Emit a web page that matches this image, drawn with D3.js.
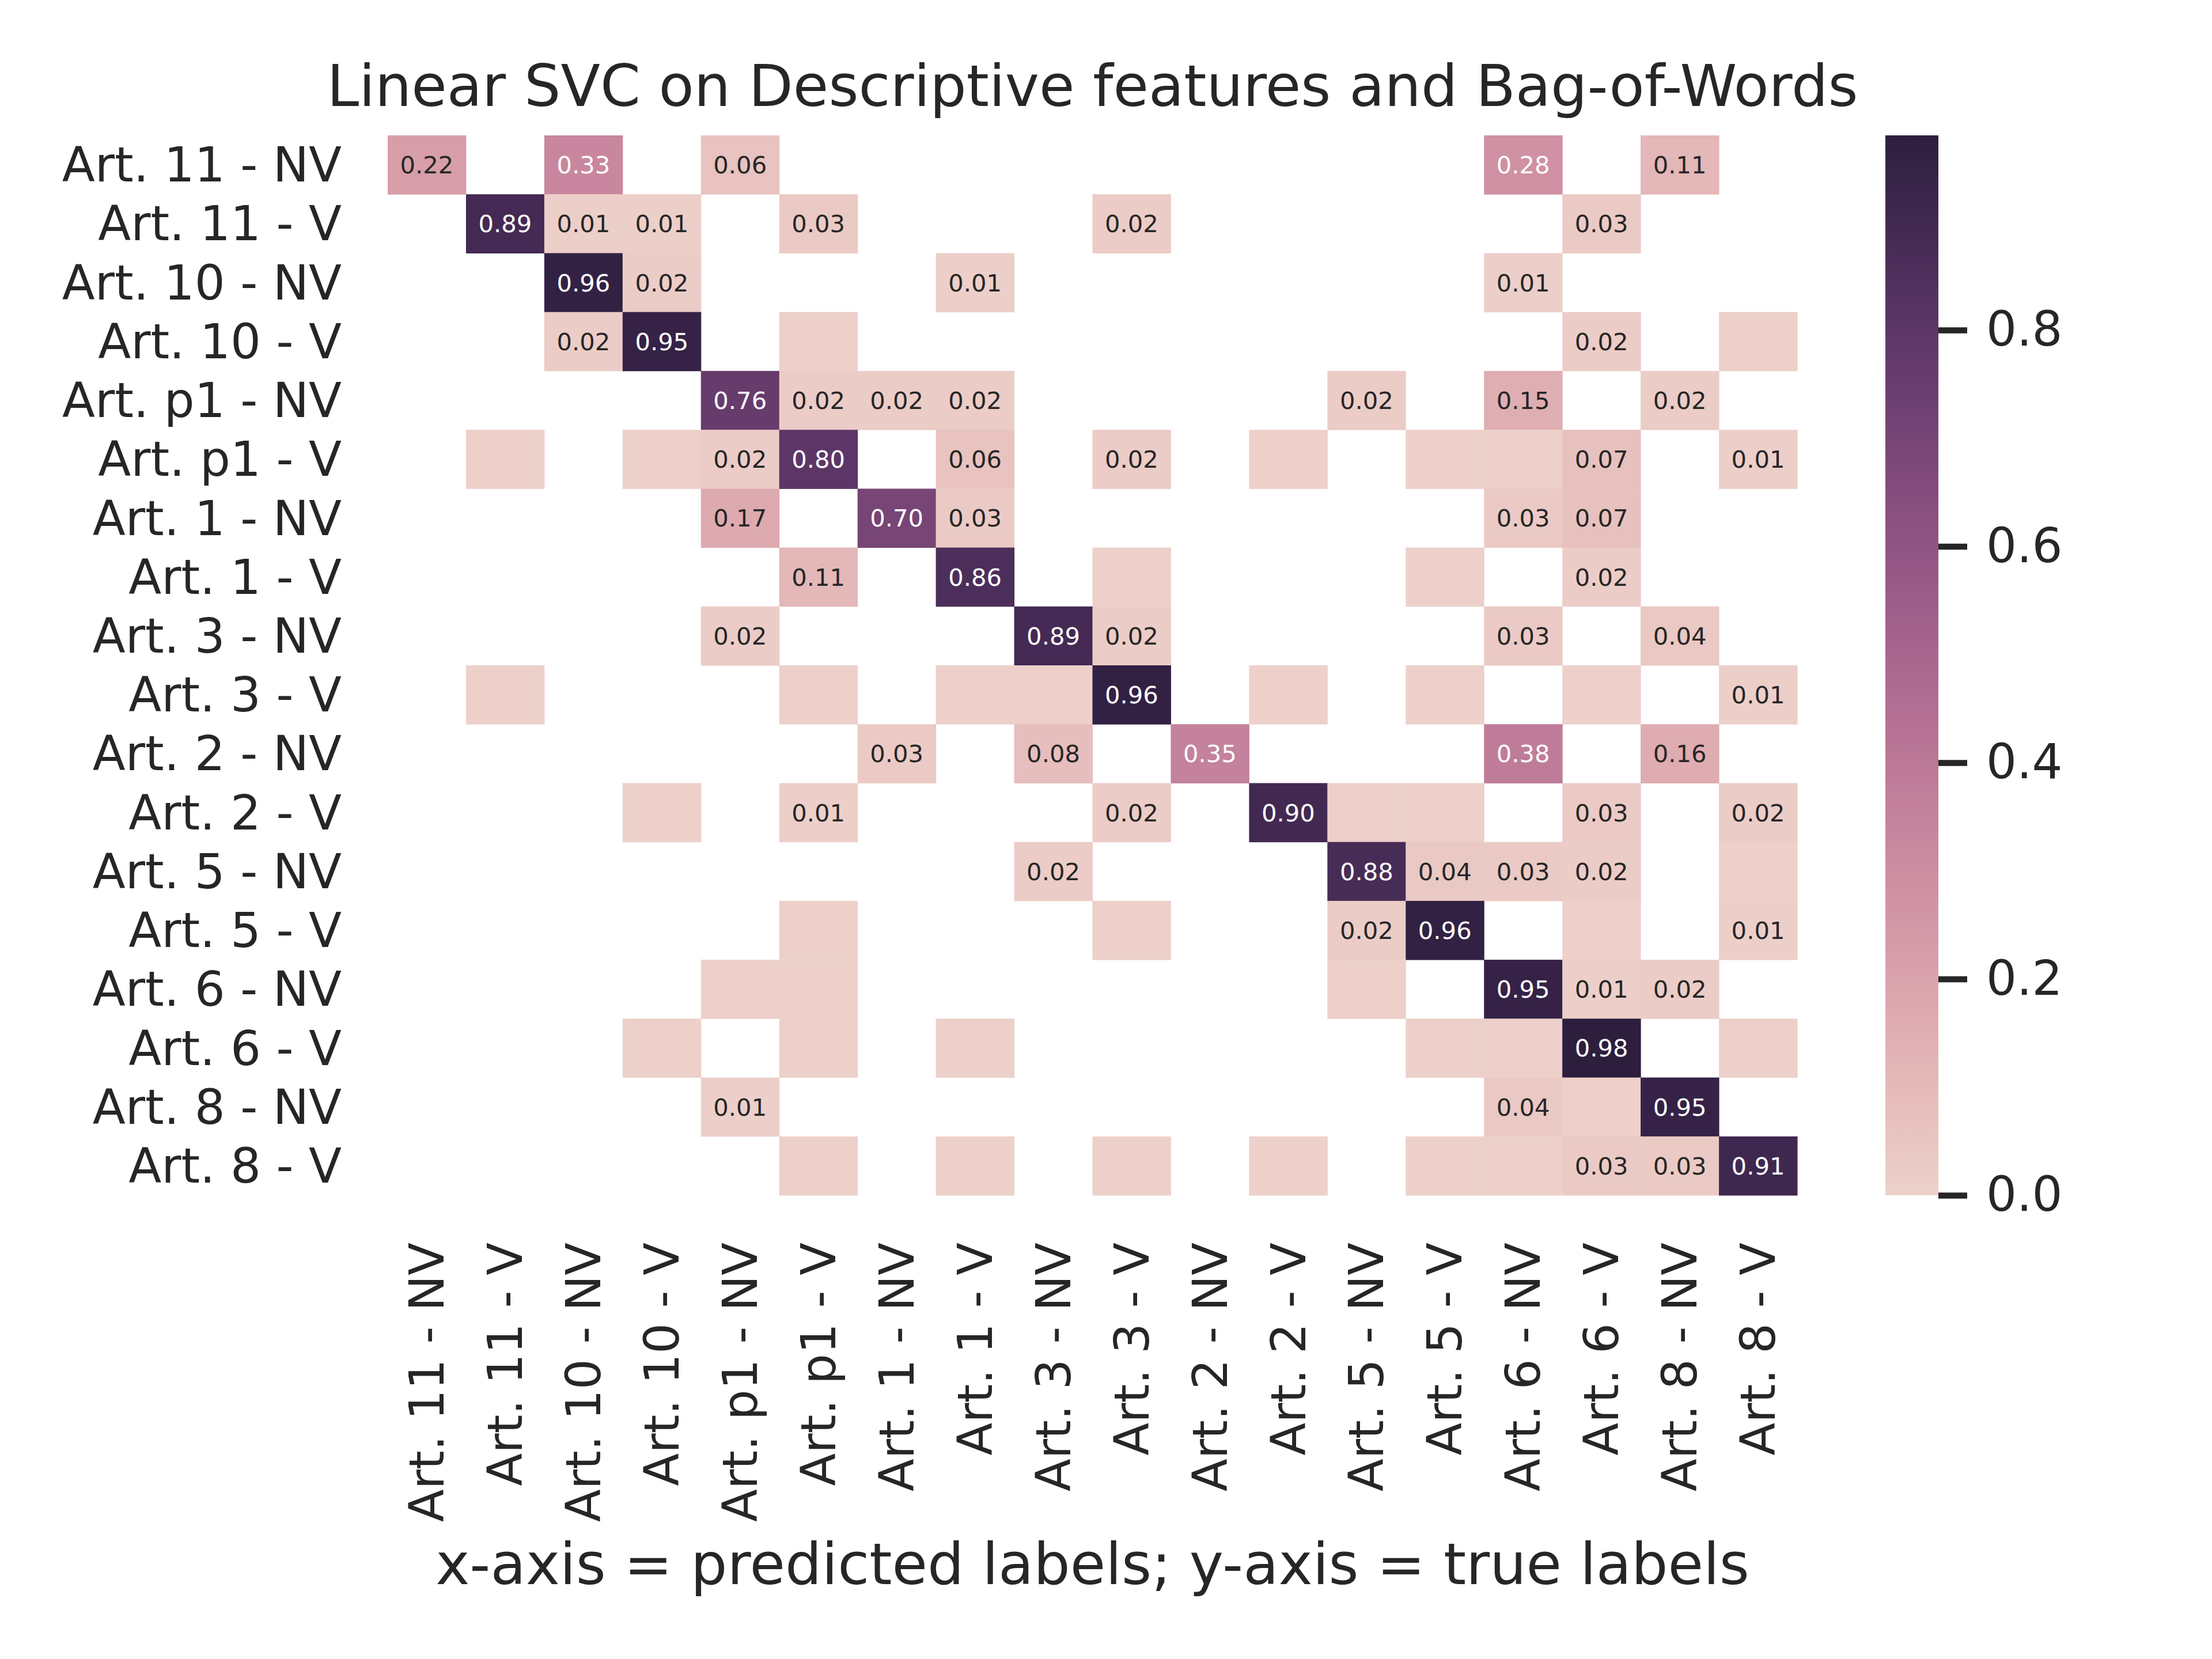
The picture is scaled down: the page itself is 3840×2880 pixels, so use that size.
<!DOCTYPE html>
<html>
<head>
<meta charset="utf-8">
<script src="https://cdn.jsdelivr.net/npm/d3@7"></script>
<style>
  html, body { margin: 0; padding: 0; background: #ffffff; }
  svg text { font-family: "DejaVu Sans", sans-serif; fill: #262626; }
</style>
</head>
<body>
<div id="chart"></div>
<script>
const labels = ["Art. 11 - NV", "Art. 11 - V", "Art. 10 - NV", "Art. 10 - V",
    "Art. p1 - NV", "Art. p1 - V", "Art. 1 - NV", "Art. 1 - V",
    "Art. 3 - NV", "Art. 3 - V", "Art. 2 - NV", "Art. 2 - V",
    "Art. 5 - NV", "Art. 5 - V", "Art. 6 - NV", "Art. 6 - V",
    "Art. 8 - NV", "Art. 8 - V"];

// tiny non-zero share that rounds to 0.00 (coloured cell, no label)
const L = 0.004;

// rows = true labels, columns = predicted labels
const matrix = [
    [0.22, 0, 0.33, 0, 0.06, 0, 0, 0, 0, 0, 0, 0, 0, 0, 0.28, 0, 0.11, 0],
    [0, 0.89, 0.01, 0.01, 0, 0.03, 0, 0, 0, 0.02, 0, 0, 0, 0, 0, 0.03, 0, 0],
    [0, 0, 0.96, 0.02, 0, 0, 0, 0.01, 0, 0, 0, 0, 0, 0, 0.01, 0, 0, 0],
    [0, 0, 0.02, 0.95, 0, L, 0, 0, 0, 0, 0, 0, 0, 0, 0, 0.02, 0, L],
    [0, 0, 0, 0, 0.76, 0.02, 0.02, 0.02, 0, 0, 0, 0, 0.02, 0, 0.15, 0, 0.02, 0],
    [0, L, 0, L, 0.02, 0.80, 0, 0.06, 0, 0.02, 0, L, 0, L, L, 0.07, 0, 0.01],
    [0, 0, 0, 0, 0.17, 0, 0.70, 0.03, 0, 0, 0, 0, 0, 0, 0.03, 0.07, 0, 0],
    [0, 0, 0, 0, 0, 0.11, 0, 0.86, 0, L, 0, 0, 0, L, 0, 0.02, 0, 0],
    [0, 0, 0, 0, 0.02, 0, 0, 0, 0.89, 0.02, 0, 0, 0, 0, 0.03, 0, 0.04, 0],
    [0, L, 0, 0, 0, L, 0, L, L, 0.96, 0, L, 0, L, 0, L, 0, 0.01],
    [0, 0, 0, 0, 0, 0, 0.03, 0, 0.08, 0, 0.35, 0, 0, 0, 0.38, 0, 0.16, 0],
    [0, 0, 0, L, 0, 0.01, 0, 0, 0, 0.02, 0, 0.90, L, L, 0, 0.03, 0, 0.02],
    [0, 0, 0, 0, 0, 0, 0, 0, 0.02, 0, 0, 0, 0.88, 0.04, 0.03, 0.02, 0, L],
    [0, 0, 0, 0, 0, L, 0, 0, 0, L, 0, 0, 0.02, 0.96, 0, L, 0, 0.01],
    [0, 0, 0, 0, L, L, 0, 0, 0, 0, 0, 0, L, 0, 0.95, 0.01, 0.02, 0],
    [0, 0, 0, L, 0, L, 0, L, 0, 0, 0, 0, 0, L, L, 0.98, 0, L],
    [0, 0, 0, 0, 0.01, 0, 0, 0, 0, 0, 0, 0, 0, 0, 0.04, L, 0.95, 0],
    [0, 0, 0, 0, 0, L, 0, L, 0, L, 0, L, 0, L, L, 0.03, 0.03, 0.91]
];

const colorbarTicks = [0.0, 0.2, 0.4, 0.6, 0.8];
const vmax = 0.98;

const title = "Linear SVC on Descriptive features and Bag-of-Words";
const xTitle = "x-axis = predicted labels; y-axis = true labels";

const width = 3840, height = 2880;
const plot = { left: 673, right: 3120, top: 235, bottom: 2075 };
const cbar = { left: 3273, right: 3365 };
const tickFont = 83.3, titleFont = 100, annotFont = 41.7;

// seaborn cubehelix_palette(as_cmap=True) defaults
function cubehelix(t) {
    const start = 0, rot = 0.4, gamma = 1, hue = 0.8, light = 0.85, dark = 0.15;
    const x = light + (dark - light) * t;
    const xg = Math.pow(x, gamma);
    const a = hue * xg * (1 - xg) / 2;
    const phi = 2 * Math.PI * (start / 3 + rot * x);
    const c = Math.cos(phi), s = Math.sin(phi);
    const clamp = function(v) { return Math.max(0, Math.min(1, v)) * 255; };
    return d3.rgb(
        clamp(xg + a * (-0.14861 * c + 1.78277 * s)),
        clamp(xg + a * (-0.29227 * c - 0.90649 * s)),
        clamp(xg + a * (1.97294 * c))
    ).formatHex();
}

const color = d3.scaleSequential(cubehelix).domain([0, vmax]).clamp(true);

function luminance(hex) {
    const c = d3.rgb(hex);
    const lin = [c.r, c.g, c.b].map(function(v) {
        v = v / 255;
        return v <= 0.03928 ? v / 12.92 : Math.pow((v + 0.055) / 1.055, 2.4);
    });
    return 0.2126 * lin[0] + 0.7152 * lin[1] + 0.0722 * lin[2];
}

const svg = d3.select("#chart").append("svg")
    .attr("width", width)
    .attr("height", height)
    .attr("viewBox", "0 0 " + width + " " + height);

svg.append("rect").attr("width", width).attr("height", height).attr("fill", "#ffffff");

const x = d3.scaleBand().domain(labels).range([plot.left, plot.right]).padding(0);
const y = d3.scaleBand().domain(labels).range([plot.top, plot.bottom]).padding(0);

const cells = [];
matrix.forEach(function(row, i) {
    row.forEach(function(v, j) {
        if (v > 0) cells.push({ row: labels[i], col: labels[j], value: v });
    });
});

const cellG = svg.append("g").attr("class", "cells");

cellG.selectAll("rect")
    .data(cells)
    .enter().append("rect")
    .attr("x", function(d) { return x(d.col); })
    .attr("y", function(d) { return y(d.row); })
    .attr("width", x.bandwidth() + 0.5)
    .attr("height", y.bandwidth() + 0.5)
    .attr("fill", function(d) { return color(d.value); });

cellG.selectAll("text")
    .data(cells.filter(function(d) { return d.value >= 0.005; }))
    .enter().append("text")
    .attr("x", function(d) { return x(d.col) + x.bandwidth() / 2; })
    .attr("y", function(d) { return y(d.row) + y.bandwidth() / 2; })
    .attr("dy", "0.36em")
    .attr("text-anchor", "middle")
    .style("font-size", annotFont + "px")
    .style("fill", function(d) { return luminance(color(d.value)) > 0.408 ? "#262626" : "#ffffff"; })
    .text(function(d) { return d3.format(".2f")(d.value); });

// y axis (true labels)
const yAxis = svg.append("g")
    .attr("transform", "translate(" + plot.left + ",0)")
    .call(d3.axisLeft(y).tickSize(0).tickPadding(80));
yAxis.select(".domain").remove();
yAxis.selectAll("text")
    .attr("dy", "0.35em")
    .style("font-size", tickFont + "px")
    .style("font-family", "DejaVu Sans")
    .attr("fill", "#262626");

// x axis (predicted labels), rotated
const xAxis = svg.append("g")
    .attr("transform", "translate(0," + plot.bottom + ")")
    .call(d3.axisBottom(x).tickSize(0));
xAxis.select(".domain").remove();
xAxis.selectAll("text")
    .attr("transform", "rotate(-90)")
    .attr("x", -82)
    .attr("y", 0)
    .attr("dy", "0.35em")
    .attr("text-anchor", "end")
    .style("font-size", tickFont + "px")
    .style("font-family", "DejaVu Sans")
    .attr("fill", "#262626");

// colorbar
const cb = d3.scaleLinear().domain([0, vmax]).range([plot.bottom, plot.top]);
const grad = svg.append("defs").append("linearGradient")
    .attr("id", "cbgrad")
    .attr("x1", 0).attr("y1", 1).attr("x2", 0).attr("y2", 0);
grad.selectAll("stop")
    .data(d3.range(0, 1.0001, 0.02))
    .enter().append("stop")
    .attr("offset", function(d) { return d; })
    .attr("stop-color", function(d) { return color(d * vmax); });

svg.append("rect")
    .attr("x", cbar.left)
    .attr("y", plot.top)
    .attr("width", cbar.right - cbar.left)
    .attr("height", plot.bottom - plot.top)
    .attr("fill", "url(#cbgrad)");

const cbAxis = svg.append("g")
    .attr("transform", "translate(" + cbar.right + ",0)")
    .call(d3.axisRight(cb).tickValues(colorbarTicks).tickSize(50).tickPadding(33)
        .tickFormat(d3.format(".1f")));
cbAxis.select(".domain").remove();
cbAxis.selectAll("line").attr("stroke", "#262626").attr("stroke-width", 10.5);
cbAxis.selectAll("text")
    .style("font-size", tickFont + "px")
    .style("font-family", "DejaVu Sans")
    .attr("fill", "#262626");

// titles
svg.append("text")
    .attr("x", (plot.left + plot.right) / 2)
    .attr("y", 184)
    .attr("text-anchor", "middle")
    .style("font-size", titleFont + "px")
    .text(title);

svg.append("text")
    .attr("x", (plot.left + plot.right) / 2)
    .attr("y", 2750)
    .attr("text-anchor", "middle")
    .style("font-size", titleFont + "px")
    .text(xTitle);
</script>
</body>
</html>
